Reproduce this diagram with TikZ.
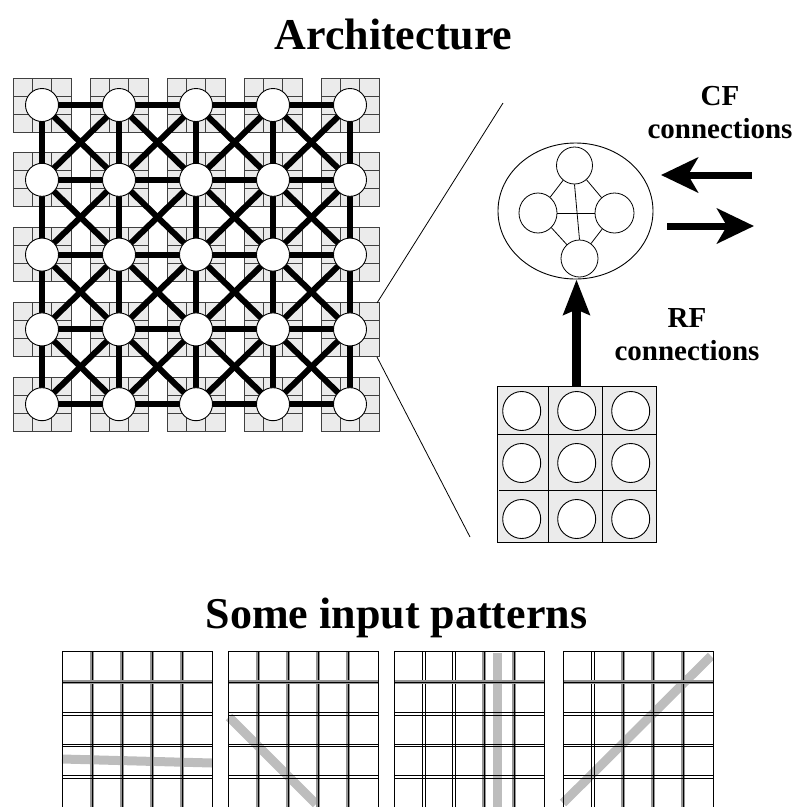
\documentclass[tikz,border=0pt]{standalone}
\usepackage{fontspec}
\setmainfont{Liberation Serif}
\usetikzlibrary{shapes.geometric,arrows.meta}
\pgfdeclarelayer{tiles}
\pgfdeclarelayer{links}
\pgfsetlayers{tiles,links,main}
\definecolor{tilegray}{HTML}{EBEBEB}
\definecolor{bandgray}{HTML}{959595}
\definecolor{patgray}{HTML}{BDBDBD}
\begin{document}
\begin{tikzpicture}[x=1pt,y=-1pt,
  tileline/.style={draw=black!75,line width=0.8pt},
  unit/.style={circle,draw=black,line width=0.9pt,fill=white,minimum size=33pt,inner sep=0pt},
  link/.style={line width=6pt,black},
  small/.style={ellipse,draw=black,line width=0.8pt,inner sep=0pt},
  thinl/.style={line width=0.8pt,black},
  rfunit/.style={ellipse,draw=black,line width=0.9pt,fill=white,minimum width=38pt,minimum height=39pt,inner sep=0pt},
  gs/.style={draw=black,line width=0.6pt,preaction={draw=bandgray,line width=4pt}},
  dv/.style={draw=none,
     postaction={draw=black,line width=0.7pt,transform canvas={xshift=1.3pt}},
     postaction={draw=black,line width=0.7pt,transform canvas={xshift=-1.3pt}}},
  gthin/.style={draw=black,line width=0.7pt},
  pat/.style={draw=patgray,line width=9pt},
  label/.style={anchor=base,inner sep=0pt,font=\fontsize{29}{33}\selectfont\bfseries},
  titlefont/.style={anchor=base,inner sep=0pt,font=\fontsize{44}{50}\selectfont\bfseries},
  bigarrow/.style={line width=7pt,-{Stealth[length=37pt,width=35pt,inset=10pt]}},
  rfarrow/.style={line width=9pt,-{Stealth[length=35pt,width=26pt,inset=5pt]}}
]
\useasboundingbox (0,0) rectangle (800,807);
\clip (0,0) rectangle (800,807);

% titles
\node[titlefont] (title) at (393.5,49) {Architecture};
\node[titlefont] (title2) at (396.5,628) {Some input patterns};

% tiles and units
\foreach \i in {0,...,4}{
  \foreach \j in {0,...,4}{
    \pgfmathsetmacro\tx{13+77*\j}
    \pgfmathsetmacro\ty{78+74.8*\i}
    \begin{pgfonlayer}{tiles}
      \fill[tilegray] (\tx,\ty) rectangle ++(58,54);
      \draw[tileline] (\tx+19.3,\ty) -- ++(0,54) (\tx+38.7,\ty) -- ++(0,54)
                      (\tx,\ty+18) -- ++(58,0) (\tx,\ty+36) -- ++(58,0);
      \draw[tileline] (\tx,\ty) rectangle ++(58,54);
    \end{pgfonlayer}
    \node[unit] (c-\i-\j) at (\tx+29,\ty+27) {};
  }
}
\begin{pgfonlayer}{links}
  \foreach \i in {0,...,4}{
    \foreach \j [count=\jj from 1] in {0,...,3}{
      \draw[link] (c-\i-\j.center) -- (c-\i-\jj.center);
      \draw[link] (c-\j-\i.center) -- (c-\jj-\i.center);
    }
  }
  \foreach \i [count=\ii from 1] in {0,...,3}{
    \foreach \j [count=\jj from 1] in {0,...,3}{
      \draw[link] (c-\i-\j.center) -- (c-\ii-\jj.center);
      \draw[link] (c-\i-\jj.center) -- (c-\ii-\j.center);
    }
  }
\end{pgfonlayer}

% zoom lines
\coordinate (z1) at (377,303);
\coordinate (z2) at (503,103);
\coordinate (z3) at (377,357);
\coordinate (z4) at (470,537);
\draw[thinl] (z1) -- (z2);
\draw[thinl] (z3) -- (z4);

% cell (enlarged unit)
\node[ellipse,draw=black,line width=0.9pt,minimum width=155pt,minimum height=136pt,inner sep=0pt] (cell) at (575.5,211) {};
\node[small,minimum width=36pt,minimum height=37pt] (st) at (574.5,165.5) {};
\node[small,minimum width=38pt,minimum height=40pt] (sl) at (538,213) {};
\node[small,minimum width=39pt,minimum height=40pt] (sr) at (614.5,213) {};
\node[small,minimum width=37pt,minimum height=37pt] (sb) at (579.5,258.5) {};
\draw[thinl] (sl) -- (st);
\draw[thinl] (st) -- (sr);
\draw[thinl] (sr) -- (sb);
\draw[thinl] (sb) -- (sl);
\draw[thinl] (sl.east) -- (sr.west);
\draw[thinl] (st.south) -- (sb.north);

% receptive field grid
\node[draw=black,line width=0.9pt,fill=tilegray,minimum width=159pt,minimum height=156pt,inner sep=0pt] (rfgrid) at (576.5,464) {};
\draw[thinl] (548,386) -- (548,542) (602,386) -- (602,542)
             (497,434) -- (656,434) (499,490) -- (657,490);
\foreach \x [count=\a] in {521.7,576.7,630.7}{
  \foreach \y [count=\b] in {411,463,519}{
    \node[rfunit] (rf-\a-\b) at (\x,\y) {};
  }
}

% arrows
\draw[rfarrow] (rfgrid.north) -- (rfgrid.north |- cell.south);
\coordinate (a1) at (752,175);
\coordinate (a2) at (661,175);
\coordinate (a3) at (667,226);
\coordinate (a4) at (754,226);
\draw[bigarrow] (a1) -- (a2);
\draw[bigarrow] (a3) -- (a4);

% labels
\node[label] (cf1) at (720,105) {CF};
\node[label] (cf2) at (720,138) {connections};
\node[label] (rf1) at (687,327) {RF};
\node[label] (rf2) at (687,360) {connections};

% input patterns
\draw[pat] (62,759) -- (212,763);
\draw[pat] (229,717) -- (316,804);
\draw[pat] (497,653) -- (497,812);
\draw[pat] (563,803) -- (711,656);

\foreach \gx/\va/\vb/\vc/\vd in {62/gs/gs/gs/gs, 228/gs/gs/gs/gs, 394/dv/dv/gs/gs, 563/dv/gs/gs/gs}{
  \draw[\va] (\gx+30,651) -- (\gx+30,812);
  \draw[\vb] (\gx+60,651) -- (\gx+60,812);
  \draw[\vc] (\gx+90,651) -- (\gx+90,812);
  \draw[\vd] (\gx+120,651) -- (\gx+120,812);
  \draw[gs] (\gx,682.4) -- (\gx+150,682.4);
  \foreach \yy in {713.8,745.2,776.6}{
    \draw[gthin] (\gx,\yy-1.3) -- (\gx+150,\yy-1.3);
    \draw[gthin] (\gx,\yy+1.3) -- (\gx+150,\yy+1.3);
  }
  \draw[gthin] (\gx,812) -- (\gx,651) -- (\gx+150,651) -- (\gx+150,812);
}
\end{tikzpicture}
\end{document}
